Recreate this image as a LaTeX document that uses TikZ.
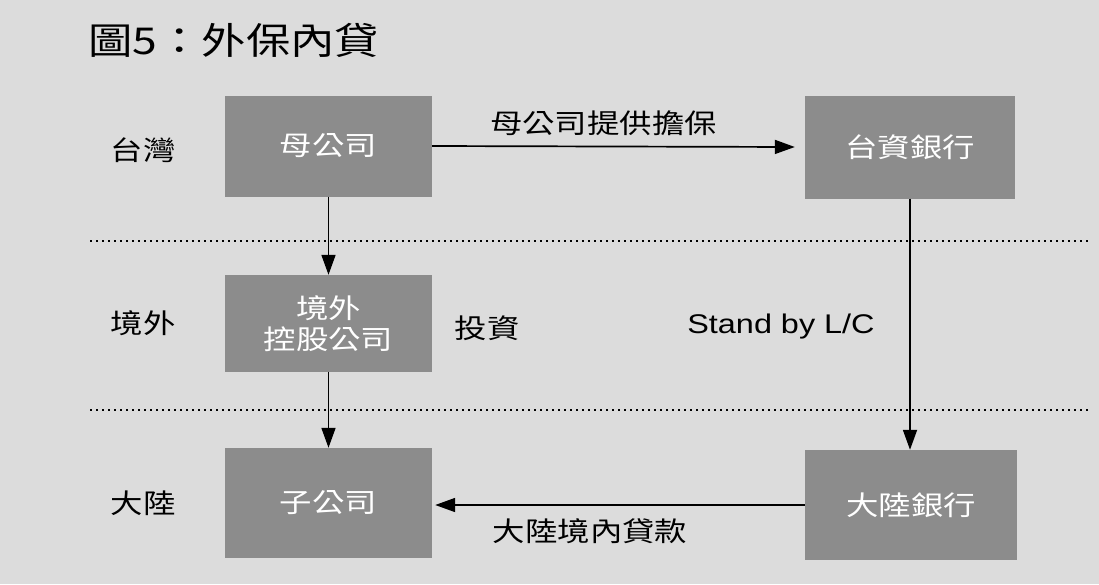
\documentclass[tikz,border=0pt]{standalone}
\usepackage{fontspec}
\setmainfont{Liberation Sans}
\newfontfamily\cjk[FakeStretch=1.2]{Noto Sans CJK TC}
\newfontfamily\lat[FakeStretch=1.2]{Liberation Sans}
\usetikzlibrary{arrows.meta}
\definecolor{bg}{HTML}{DCDCDC}
\definecolor{boxc}{HTML}{8C8C8C}
\begin{document}
\begin{tikzpicture}[x=1pt,y=-1pt,
  box/.style={fill=boxc, text=white, inner sep=0pt, align=center,
    font=\cjk\fontsize{27}{32}\selectfont},
  lbl/.style={text=black, inner sep=0pt, font=\cjk\fontsize{27}{32}\selectfont},
  conn/.style={line width=1.7pt, -{Triangle[length=20pt,width=14pt]}},
  sep/.style={line width=2pt, dash pattern=on 2pt off 4pt}]
\fill[bg] (0,0) rectangle (1099,584);
\useasboundingbox (0,0) rectangle (1099,584);
% title
\node[anchor=west, inner sep=0pt, font=\cjk\fontsize{37}{42}\selectfont] (title) at (88,40) {圖5：外保內貸};
% separators
\coordinate (s1a) at (90,241);
\coordinate (s1b) at (1088,241);
\coordinate (s2a) at (90,410);
\coordinate (s2b) at (1088,410);
\draw[sep] (s1a) -- (s1b);
\draw[sep] (s2a) -- (s2b);
% boxes
\node[box, minimum width=207pt, minimum height=101pt] (mu) at (328.5,146) {母公司};
\node[box, minimum width=210pt, minimum height=103pt] (tai) at (910,147) {台資銀行};
\node[box, minimum width=207pt, minimum height=97pt] (jing) at (328.5,323.5) {境外\\[-1pt]控股公司};
\node[box, minimum width=207pt, minimum height=110pt] (zi) at (328.5,503) {子公司};
\node[box, minimum width=212pt, minimum height=110pt] (dalu) at (911,505) {大陸銀行};
% row labels
\node[lbl] (r1) at (143,150) {台灣};
\node[lbl] (r2) at (143,323) {境外};
\node[lbl] (r3) at (143,503) {大陸};
% connectors
\draw[conn] (mu.east) -- ([xshift=-10pt]tai.west) node[midway, above=10pt, xshift=-10pt, lbl] (l1) {母公司提供擔保};
\draw[conn] (tai.south) -- (tai.south |- dalu.north);
\draw[conn] (dalu.west) -- ([xshift=3pt]dalu.west -| zi.east) node[midway, below=13pt, xshift=-30pt, lbl] (l3) {大陸境內貸款};
\draw[conn] (mu.south) -- (jing.north);
\draw[conn] (jing.south) -- (zi.north);
% other labels
\node[lbl] (inv) at (487,328) {投資};
\node[inner sep=0pt, font=\lat\fontsize{27}{32}\selectfont] (lc) at (781,327) {Stand by L/C};
\end{tikzpicture}
\end{document}
